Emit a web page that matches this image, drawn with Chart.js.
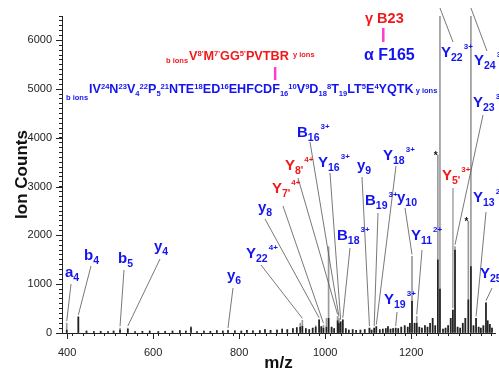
<!DOCTYPE html>
<html>
<head>
<meta charset="utf-8">
<script src="https://cdn.jsdelivr.net/npm/chart.js"></script>
<style>
  html, body { margin: 0; padding: 0; background: #fff; }
</style>
</head>
<body>
<canvas id="spec" width="499" height="375"></canvas>
<script>
// peaks: m/z, full height (grey) and inner part (black)
const mz = [399, 426, 445, 462, 478, 495, 508, 523, 541, 558, 575, 592, 612, 628, 645, 662, 676, 688, 702, 718,
  733, 748, 762, 774, 790, 805, 818, 832, 848, 860, 873, 888, 900, 912, 925, 934, 942, 947, 955, 963,
  971, 978, 986, 991, 996, 1003, 1008, 1015, 1021, 1029, 1032, 1036, 1041, 1048, 1055, 1064, 1072, 1082, 1092, 1103,
  1108, 1114, 1119, 1127, 1134, 1141, 1146, 1152, 1158, 1164, 1170, 1177, 1185, 1192, 1197, 1202, 1208, 1213, 1219, 1225,
  1232, 1238, 1244, 1250, 1256, 1262, 1267, 1274, 1280, 1286, 1292, 1297, 1302, 1308, 1314, 1320, 1326, 1333, 1339, 1345,
  1351, 1357, 1362, 1368, 1374, 1378, 1383, 1388];
const countsAll = [200, 330, 40, 30, 35, 30, 40, 100, 100, 30, 35, 40, 30, 35, 40, 50, 40, 130, 30, 40,
  35, 50, 40, 60, 45, 40, 55, 45, 50, 70, 55, 60, 80, 70, 90, 110, 200, 260, 90, 70,
  100, 150, 270, 130, 160, 300, 1770, 120, 90, 340, 300, 230, 270, 90, 60, 70, 55, 60, 70, 100,
  60, 100, 130, 70, 80, 90, 130, 80, 90, 100, 90, 120, 150, 120, 200, 1570, 200, 340, 120, 100,
  150, 120, 200, 300, 150, 3650, 7000, 80, 100, 150, 300, 470, 1770, 120, 100, 200, 300, 2290, 7000, 150,
  300, 120, 100, 150, 620, 250, 180, 100];
const countsCore = [60, 330, 40, 30, 35, 30, 40, 60, 80, 30, 35, 40, 30, 35, 40, 50, 40, 110, 30, 40,
  35, 50, 40, 50, 45, 40, 55, 45, 50, 70, 55, 60, 80, 70, 90, 110, 120, 140, 90, 70,
  100, 120, 270, 130, 100, 120, 300, 120, 90, 250, 200, 230, 270, 90, 60, 70, 55, 60, 70, 100,
  60, 100, 130, 70, 80, 90, 130, 80, 90, 100, 90, 120, 150, 120, 200, 650, 200, 200, 120, 100,
  150, 120, 200, 300, 150, 1500, 900, 80, 100, 150, 300, 470, 1700, 120, 100, 200, 300, 680, 1360, 150,
  300, 120, 100, 150, 620, 250, 180, 100];

const xTickLabels = [400, 600, 800, 1000, 1200];
const yTickLabels = [0, 1000, 2000, 3000, 4000, 5000, 6000];

// assigned fragment ions
const ionLetter = ['a', 'b', 'b', 'y', 'y', 'Y', 'y', 'Y', 'Y', 'B', 'Y', 'B', 'y', 'Y', 'B', 'y', 'Y', 'Y', 'Y', 'Y', 'Y', 'Y', 'Y', 'Y'];
const ionSub = ['4', '4', '5', '4', '6', '22', '8', "7'", "8'", '16', '16', '18', '9', '18', '19', '10', '11', '19', '22', '24', '23', "5'", '13', '25'];
const ionCharge = ['', '', '', '', '', '4+', '', '4+', '4+', '3+', '3+', '3+', '', '3+', '3+', '', '2+', '3+', '3+', '3+', '3+', '3+', '2+', ''];
const ionMz = [399, 426, 523, 541, 774, 947, 986, 996, 1029, 1032, 1036, 1041, 1103, 1119, 1114, 1202, 1213, 1164, 1267, 1339, 1302, 1297, 1351, 1374];
const ionGamma = [0, 0, 0, 0, 0, 0, 0, 1, 1, 0, 0, 0, 0, 0, 0, 0, 0, 0, 0, 0, 0, 1, 0, 0];
const starMz = [1262, 1333];

// sequences shown above the spectrum
const seqGamma = [['V', 'n'], ["8'", 'p'], ['M', 'n'], ["7'", 'p'], ['GG', 'n'], ["5'", 'p'], ['PVT', 'n'], ['B', 'n'], ['R', 'n']];
const seqBeta = [['IV', 'n'], ['24', 'p'], ['N', 'n'], ['23', 'p'], ['V', 'n'], ['4', 'b'], ['22', 'p'], ['P', 'n'], ['5', 'b'], ['21', 'p'],
  ['NTE', 'n'], ['18', 'p'], ['ED', 'n'], ['16', 'p'], ['EHFCD', 'n'], ['F', 'n'], ['16', 'b'], ['10', 'p'], ['V', 'n'], ['9', 'p'],
  ['D', 'n'], ['18', 'b'], ['8', 'p'], ['T', 'n'], ['19', 'b'], ['LT', 'n'], ['5', 'p'], ['E', 'n'], ['4', 'p'], ['YQTK', 'n']];

// layout: label text position (left, baseline) and leader start, in pixels
const labelAt = [[65, 277], [84, 260], [118, 263], [154, 251], [227, 280], [246, 258], [258, 212], [272, 193], [285, 170], [297, 137],
  [318, 167], [337, 240], [357, 170], [383, 160], [365, 205], [397, 202], [411, 240], [384, 304], [441, 57], [474, 65],
  [473, 107], [442, 180], [473, 202], [480, 278]];
const leaderFrom = [[71, 284], [91, 266], [124, 270], [160, 259], [233, 288], [261, 265], [265, 219], [283, 206], [298, 178], [310, 142],
  [330, 173], [350, 248], [362, 177], [396, 166], [378, 213], [405, 208], [422, 250], [397, 312], [453, 42], [487, 51],
  [483, 115], [453, 188], [486, 212], [492, 288]];

const BLUE = '#1414f0';
const RED = '#f01a1a';
const PINK = '#ff3ccc';
const FONT = '"Liberation Sans", Arial, sans-serif';

function f(size) { return 'bold ' + size + 'px ' + FONT; }

function heightAt(m) {
  const i = mz.indexOf(m);
  return i < 0 ? 0 : countsAll[i];
}

// ion label: letter, subscript, then charge as superscript
function drawIon(ctx, x, y, letter, sub, sup, color) {
  ctx.fillStyle = color;
  ctx.textBaseline = 'alphabetic';
  ctx.textAlign = 'left';
  ctx.font = f(15);
  ctx.fillText(letter, x, y);
  let cx = x + ctx.measureText(letter).width;
  if (sub) {
    ctx.font = f(10.5);
    ctx.fillText(sub, cx, y + 4);
    cx += ctx.measureText(sub).width;
  }
  if (sup) {
    ctx.font = f(8);
    ctx.fillText(sup, cx + 1, y - 8);
  }
}

// sequence row fitted to a width; returns x of marked segment
function drawSeq(ctx, segs, x, base, width, color, markIdx) {
  const measure = s => segs.reduce((w, g) => {
    ctx.font = f(g[1] === 'n' ? s : s * 0.6);
    return w + ctx.measureText(g[0]).width;
  }, 0);
  const s = 12 * width / measure(12);
  ctx.fillStyle = color;
  ctx.textAlign = 'left';
  ctx.textBaseline = 'alphabetic';
  let cx = x, mark = null;
  segs.forEach((g, i) => {
    const k = g[1];
    ctx.font = f(k === 'n' ? s : s * 0.6);
    const dy = k === 'p' ? -0.32 * s : (k === 'b' ? 0.22 * s : 0);
    ctx.fillText(g[0], cx, base + dy);
    const w = ctx.measureText(g[0]).width;
    if (i === markIdx) mark = cx + w / 2;
    cx += w;
  });
  return { mark: mark, end: cx };
}

const annotations = {
  id: 'annotations',
  afterDatasetsDraw(chart) {
    const { ctx, chartArea, scales } = chart;
    const xs = scales.x, ys = scales.y;
    ctx.save();

    // longer ticks for labelled values
    ctx.strokeStyle = '#222';
    ctx.lineWidth = 1;
    ctx.beginPath();
    xTickLabels.forEach(v => {
      const px = Math.round(xs.getPixelForValue(v)) + 0.5;
      ctx.moveTo(px, chartArea.bottom);
      ctx.lineTo(px, chartArea.bottom + 6);
    });
    yTickLabels.forEach(v => {
      const py = Math.round(ys.getPixelForValue(v)) + 0.5;
      ctx.moveTo(chartArea.left - 6, py);
      ctx.lineTo(chartArea.left, py);
    });
    ctx.stroke();

    // leader lines from labels to peaks
    ctx.strokeStyle = '#555';
    ctx.lineWidth = 0.8;
    ionMz.forEach((m, i) => {
      const h = heightAt(m);
      const px = xs.getPixelForValue(m);
      const py = h > ys.max ? chartArea.top - 8 : ys.getPixelForValue(h) - 2;
      ctx.beginPath();
      ctx.moveTo(leaderFrom[i][0], leaderFrom[i][1]);
      ctx.lineTo(px, py);
      ctx.stroke();
    });

    ionLetter.forEach((l, i) => {
      drawIon(ctx, labelAt[i][0], labelAt[i][1], l, ionSub[i], ionCharge[i], ionGamma[i] ? RED : BLUE);
    });

    // stars over contaminant peaks
    ctx.fillStyle = '#111';
    ctx.font = 'bold 10px ' + FONT;
    ctx.textAlign = 'center';
    ctx.textBaseline = 'alphabetic';
    starMz.forEach(m => {
      ctx.fillText('*', xs.getPixelForValue(m) - 2, ys.getPixelForValue(heightAt(m)) + 4);
    });

    // gamma chain row
    ctx.textAlign = 'left';
    ctx.fillStyle = RED;
    ctx.font = f(7.5);
    ctx.fillText('b ions', 166, 63);
    const g = drawSeq(ctx, seqGamma, 189, 60, 100, RED, 7);
    ctx.fillStyle = RED;
    ctx.font = f(7.5);
    ctx.fillText('y ions', g.end + 4, 57);

    // beta chain row
    ctx.fillStyle = BLUE;
    ctx.font = f(7.5);
    ctx.fillText('b ions', 66, 100);
    const b = drawSeq(ctx, seqBeta, 89, 93, 325, BLUE, -1);
    ctx.fillStyle = BLUE;
    ctx.font = f(7.5);
    ctx.fillText('y ions', b.end + 2, 93);

    // crosslink marks
    ctx.strokeStyle = PINK;
    ctx.lineWidth = 2.5;
    ctx.beginPath();
    ctx.moveTo(g.mark, 67);
    ctx.lineTo(g.mark, 80);
    ctx.stroke();

    ctx.textAlign = 'left';
    ctx.fillStyle = RED;
    ctx.font = f(14.5);
    ctx.fillText('\u03b3 B23', 365, 23);
    ctx.fillStyle = BLUE;
    ctx.font = f(16);
    ctx.fillText('\u03b1 F165', 364, 60);
    const fx = 364 + ctx.measureText('\u03b1 ').width + 5;
    ctx.strokeStyle = PINK;
    ctx.beginPath();
    ctx.moveTo(fx, 28);
    ctx.lineTo(fx, 42);
    ctx.stroke();

    ctx.restore();
  }
};

new Chart(document.getElementById('spec'), {
  type: 'bar',
  data: {
    datasets: [
      {
        data: mz.map((m, i) => ({ x: m, y: countsCore[i] })),
        backgroundColor: '#222',
        barThickness: 1,
        grouped: false,
        order: 0
      },
      {
        data: mz.map((m, i) => ({ x: m, y: countsAll[i] })),
        backgroundColor: '#9a9a9a',
        barThickness: 1,
        grouped: false,
        order: 1
      }
    ]
  },
  options: {
    responsive: false,
    animation: false,
    layout: { padding: { top: 16, right: 4, bottom: 0, left: 0 } },
    plugins: { legend: { display: false }, tooltip: { enabled: false } },
    scales: {
      x: {
        type: 'linear',
        min: 388,
        max: 1395,
        offset: false,
        afterFit: s => { s.height = 42; },
        afterBuildTicks: s => { s.ticks = s.ticks.filter(t => t.value % 25 === 0 && t.value >= s.min && t.value <= s.max); },
        border: { display: true, color: '#222', width: 1 },
        grid: { display: true, drawOnChartArea: false, tickLength: 3, color: '#222' },
        ticks: {
          stepSize: 25,
          includeBounds: false,
          autoSkip: false,
          maxRotation: 0,
          padding: 10,
          color: '#222',
          font: { family: FONT, size: 11 },
          callback: v => (xTickLabels.includes(v) ? String(v) : '')
        },
        title: {
          display: true,
          text: 'm/z',
          color: '#111',
          font: { family: FONT, size: 17, weight: 'bold' },
          padding: { top: 0, bottom: 1 }
        }
      },
      y: {
        min: 0,
        max: 6500,
        afterFit: s => { s.width = 62; },
        border: { display: true, color: '#222', width: 1 },
        grid: { display: true, drawOnChartArea: false, tickLength: 3, color: '#222' },
        ticks: {
          stepSize: 100,
          autoSkip: false,
          padding: 7,
          color: '#222',
          font: { family: FONT, size: 11 },
          callback: v => (yTickLabels.includes(v) ? String(v) : '')
        },
        title: {
          display: true,
          text: 'Ion Counts',
          color: '#111',
          font: { family: FONT, size: 17, weight: 'bold' },
          padding: { top: 12, bottom: 0 }
        }
      }
    }
  },
  plugins: [annotations]
});
</script>
</body>
</html>
